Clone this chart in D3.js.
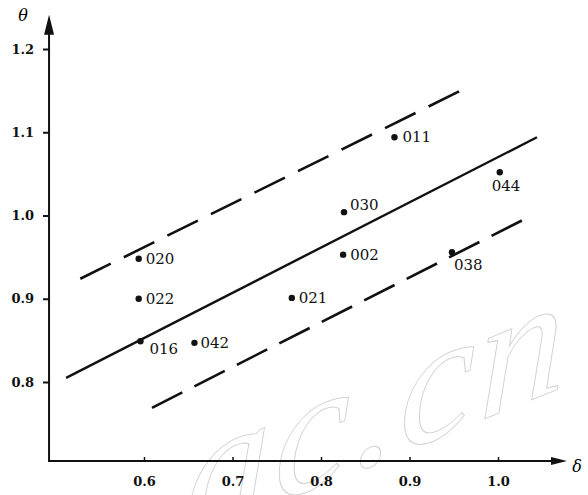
<!DOCTYPE html>
<html>
<head>
<meta charset="utf-8">
<script src="https://cdn.jsdelivr.net/npm/d3@7"></script>
<style>
    html, body { margin: 0; padding: 0; background: #fff; }
    #vis-container { width: 588px; height: 495px; }
    .tick text { font-family: "DejaVu Serif", serif; font-weight: bold; font-size: 13px; fill: #111; }
    .pt-label { font-family: "DejaVu Serif", serif; font-size: 15px; fill: #111; }
</style>
</head>
<body>
<div id="vis-container"></div>
<script>
"use strict";

// Sample points
const pointIds = ["020", "022", "016", "042", "021", "030", "002", "011", "044", "038"];
const deltaValues = [0.594, 0.594, 0.596, 0.657, 0.767, 0.826, 0.825, 0.883, 1.002, 0.948];
const thetaValues = [0.948, 0.900, 0.849, 0.847, 0.901, 1.004, 0.953, 1.094, 1.052, 0.956];

// Tick values
const xTicks = [0.6, 0.7, 0.8, 0.9, 1.0];
const yTicks = [0.8, 0.9, 1.0, 1.1, 1.2];

// Fitted line and the two dashed bounds, as [delta, theta] end points
const fitLine = [[0.512, 0.805], [1.044, 1.094]];
const upperBound = [[0.528, 0.924], [0.956, 1.149]];
const lowerBound = [[0.609, 0.769], [1.027, 0.994]];

// Axis extents (origin and arrow tips)
const xExtent = [0.4927, 1.078];
const yExtent = [0.705, 1.241];

function mainIndex()
{
    const width = 588;
    const height = 495;

    const x = d3.scaleLinear().domain([0.6, 1.0]).range([144, 498]);
    const y = d3.scaleLinear().domain([0.8, 1.2]).range([382, 49]);

    const x0 = x(xExtent[0]);
    const y0 = y(yExtent[0]);

    // label nudges relative to each dot
    const labelOffset = {
        "020": [7, 5], "022": [7, 5], "016": [9, 13], "042": [6, 5], "021": [7, 5],
        "030": [6, -2], "002": [7, 5], "011": [8, 5], "044": [-8, 19], "038": [2, 18]
    };

    const svg = d3.select("#vis-container")
        .append("svg")
        .attr("width", width)
        .attr("height", height);

    // faint watermark behind the chart (runs off the bottom, as in the source)
    svg.append("text")
        .attr("transform", "translate(185,540) skewY(-22)")
        .style("font-family", "'Liberation Serif', serif")
        .style("font-style", "italic")
        .style("font-size", "172px")
        .style("letter-spacing", "3px")
        .style("fill", "none")
        .style("stroke", "#d2d2d2")
        .style("stroke-width", 1)
        .text("ac.cn");

    // Axes
    const xAxis = d3.axisBottom(x)
        .tickValues(xTicks)
        .tickSizeInner(-4)
        .tickSizeOuter(0)
        .tickPadding(16)
        .tickFormat(d3.format(".1f"));

    const yAxis = d3.axisLeft(y)
        .tickValues(yTicks)
        .tickSizeInner(6)
        .tickSizeOuter(0)
        .tickPadding(9)
        .tickFormat(d3.format(".1f"));

    const gx = svg.append("g")
        .attr("transform", `translate(0,${y0})`)
        .call(xAxis);
    gx.select(".domain").remove();
    gx.selectAll(".tick line").attr("stroke", "#111").attr("stroke-width", 1.5);

    const gy = svg.append("g")
        .attr("transform", `translate(${x0},0)`)
        .call(yAxis);
    gy.select(".domain").remove();
    gy.selectAll(".tick line").attr("stroke", "#111").attr("stroke-width", 2);

    // axis lines with arrow heads
    svg.append("line")
        .attr("x1", x0).attr("y1", y0)
        .attr("x2", x(xExtent[1]) - 10).attr("y2", y0)
        .attr("stroke", "#111").attr("stroke-width", 2);
    svg.append("path")
        .attr("d", `M${x(xExtent[1])},${y0} L${x(xExtent[1]) - 16},${y0 - 4} L${x(xExtent[1]) - 16},${y0 + 4} Z`)
        .attr("fill", "#111");

    svg.append("line")
        .attr("x1", x0).attr("y1", y0 + 1)
        .attr("x2", x0).attr("y2", y(yExtent[1]) + 12)
        .attr("stroke", "#111").attr("stroke-width", 2);
    svg.append("path")
        .attr("d", `M${x0},${y(yExtent[1])} L${x0 - 5},${y(yExtent[1]) + 20} L${x0 + 5},${y(yExtent[1]) + 20} Z`)
        .attr("fill", "#111");

    // axis names
    svg.append("text")
        .attr("x", 23).attr("y", 21)
        .attr("text-anchor", "middle")
        .style("font-family", "'DejaVu Serif', serif")
        .style("font-style", "italic")
        .style("font-size", "16px")
        .text("θ");
    svg.append("text")
        .attr("x", 577).attr("y", 472)
        .attr("text-anchor", "middle")
        .style("font-family", "'DejaVu Serif', serif")
        .style("font-style", "italic")
        .style("font-size", "16px")
        .text("δ");

    // lines
    const line = d3.line()
        .x(d => x(d[0]))
        .y(d => y(d[1]));

    svg.append("path")
        .datum(fitLine)
        .attr("d", line)
        .attr("fill", "none")
        .attr("stroke", "#111")
        .attr("stroke-width", 2.4);

    // dashed bounds: stretch the gap a little so each line ends on a dash
    const dash = 34;
    [upperBound, lowerBound].forEach(b => {
        const len = Math.hypot(x(b[1][0]) - x(b[0][0]), y(b[1][1]) - y(b[0][1]));
        const n = Math.round((len - dash) / 48);
        const gap = (len - dash) / n - dash;
        svg.append("path")
            .datum(b)
            .attr("d", line)
            .attr("fill", "none")
            .attr("stroke", "#111")
            .attr("stroke-width", 2.6)
            .attr("stroke-dasharray", `${dash},${gap}`);
    });

    // points
    const points = pointIds.map((id, i) => ({ id: id, d: deltaValues[i], t: thetaValues[i] }));

    svg.selectAll(".dot")
        .data(points)
        .enter()
        .append("circle")
        .attr("class", "dot")
        .attr("r", 3.2)
        .attr("cx", p => x(p.d))
        .attr("cy", p => y(p.t))
        .attr("fill", "#111");

    svg.selectAll(".pt-label")
        .data(points)
        .enter()
        .append("text")
        .attr("class", "pt-label")
        .attr("x", p => x(p.d) + labelOffset[p.id][0])
        .attr("y", p => y(p.t) + labelOffset[p.id][1])
        .text(p => p.id);
}

document.addEventListener("DOMContentLoaded", mainIndex);
</script>
</body>
</html>
